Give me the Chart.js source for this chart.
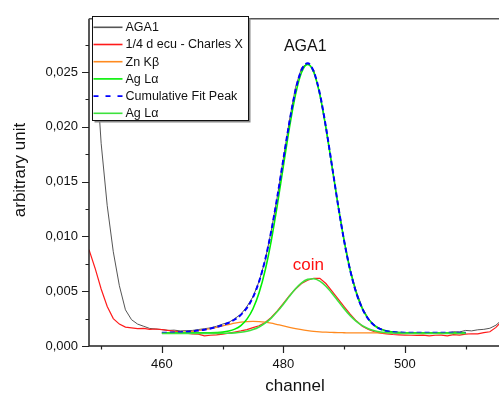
<!DOCTYPE html>
<html>
<head>
<meta charset="utf-8">
<script src="https://cdn.jsdelivr.net/npm/chart.js@4.4.1/dist/chart.umd.min.js"></script>
<style>
html, body { margin: 0; padding: 0; background: #fff; overflow: hidden; }
</style>
</head>
<body>
<canvas id="spectrum" width="499" height="394"></canvas>
<script>
"use strict";

// Channels of the measured spectra and of the fitted curves
const dataChannels = [
    448, 449, 450, 451, 452, 453, 454, 455, 456, 457,
    458, 459, 460, 461, 462, 463, 464, 465, 466, 467,
    468, 469, 470, 471, 472, 473, 474, 475, 476, 477,
    478, 479, 480, 481, 482, 483, 484, 485, 486, 487,
    488, 489, 490, 491, 492, 493, 494, 495, 496, 497,
    498, 499, 500, 501, 502, 503, 504, 505, 506, 507,
    508, 509, 510, 511, 512, 513, 514, 515, 516
];
const fitChannels = [
    460, 461, 462, 463, 464, 465, 466, 467, 468, 469,
    470, 471, 472, 473, 474, 475, 476, 477, 478, 479,
    480, 481, 482, 483, 484, 485, 486, 487, 488, 489,
    490, 491, 492, 493, 494, 495, 496, 497, 498, 499,
    500, 501, 502, 503, 504, 505, 506, 507, 508, 509, 510
];

// Measured spectra
const aga1 = [
    0.08, 0.027, 0.0185, 0.0128, 0.0086, 0.0055, 0.0033, 0.0024, 0.0020, 0.0018,
    0.0016, 0.00155, 0.0015, 0.00142, 0.00145, 0.00138, 0.0014, 0.00142, 0.0015, 0.00158,
    0.00165, 0.0018, 0.002, 0.00215, 0.0025, 0.0029, 0.0036, 0.0045, 0.0059, 0.0078,
    0.0105, 0.0136, 0.0171, 0.0206, 0.0236, 0.0254, 0.0258, 0.0252, 0.0230, 0.0199,
    0.0164, 0.0129, 0.0097, 0.0070, 0.0050, 0.0035, 0.0025, 0.0019, 0.00158, 0.00138,
    0.0013, 0.00125, 0.00122, 0.0012, 0.00121, 0.00118, 0.0012, 0.00122, 0.00119, 0.00121,
    0.0013, 0.00128, 0.00142, 0.00138, 0.00148, 0.00152, 0.00162, 0.0019, 0.0024
];
const coin = [
    0.0088, 0.0071, 0.0052, 0.0036, 0.0025, 0.0020, 0.00172, 0.00165, 0.00158, 0.0016,
    0.00152, 0.00155, 0.0015, 0.00142, 0.00135, 0.0013, 0.00118, 0.0011, 0.00108, 0.00092,
    0.00098, 0.00102, 0.00108, 0.00118, 0.00128, 0.00138, 0.0015, 0.00168, 0.00185, 0.00215,
    0.0026, 0.0032, 0.0039, 0.0046, 0.0052, 0.0057, 0.0060, 0.00618, 0.00618, 0.0057,
    0.0050, 0.0043, 0.0036, 0.0029, 0.0023, 0.0018, 0.0015, 0.0013, 0.00118, 0.0011,
    0.00105, 0.00102, 0.001, 0.00098, 0.00097, 0.001, 0.00093, 0.00098, 0.001, 0.00092,
    0.00104, 0.001, 0.00108, 0.00112, 0.0011, 0.00122, 0.0013, 0.0017, 0.0023
];

// Fitted peaks
const znKb = [
    0.00121, 0.00122, 0.00124, 0.00126, 0.00129, 0.00134, 0.00141, 0.00149, 0.00159, 0.00171,
    0.00184, 0.00196, 0.00208, 0.00217, 0.00223, 0.00225, 0.00223, 0.00217, 0.00208, 0.00196,
    0.00184, 0.00171, 0.00159, 0.00149, 0.00141, 0.00134, 0.00129, 0.00126, 0.00124, 0.00122,
    0.00121, 0.0012, 0.0012, 0.0012, 0.0012, 0.0012, 0.0012, 0.0012, 0.0012, 0.0012,
    0.0012, 0.0012, 0.0012, 0.0012, 0.0012, 0.0012, 0.0012, 0.0012, 0.0012, 0.0012, 0.0012
];
const agLaAga = [
    0.0012, 0.0012, 0.0012, 0.0012, 0.0012, 0.0012, 0.0012, 0.0012, 0.00121, 0.00123,
    0.00127, 0.00136, 0.00154, 0.00187, 0.00245, 0.00340, 0.00485, 0.00690, 0.00960, 0.01285,
    0.01642, 0.01994, 0.02295, 0.02498, 0.02570, 0.02498, 0.02295, 0.01994, 0.01642, 0.01285,
    0.00960, 0.00690, 0.00485, 0.00340, 0.00245, 0.00187, 0.00154, 0.00136, 0.00127, 0.00123,
    0.00121, 0.0012, 0.0012, 0.0012, 0.0012, 0.0012, 0.0012, 0.0012, 0.0012, 0.0012, 0.0012
];
const cumulativeFit = [
    0.00121, 0.00122, 0.00124, 0.00126, 0.00129, 0.00134, 0.00141, 0.00149, 0.00160, 0.00174,
    0.00191, 0.00212, 0.00242, 0.00284, 0.00348, 0.00445, 0.00588, 0.00787, 0.01048, 0.01361,
    0.01706, 0.02045, 0.02334, 0.02520, 0.02580, 0.02505, 0.02304, 0.02000, 0.01646, 0.01287,
    0.00961, 0.00690, 0.00485, 0.00340, 0.00245, 0.00187, 0.00154, 0.00136, 0.00127, 0.00123,
    0.00121, 0.0012, 0.0012, 0.0012, 0.0012, 0.0012, 0.0012, 0.0012, 0.0012, 0.0012, 0.0012
];
const agLaCoin = [
    0.00115, 0.00115, 0.00115, 0.00115, 0.00115, 0.00115, 0.00115, 0.00115, 0.00115, 0.00115,
    0.00116, 0.00117, 0.00120, 0.00125, 0.00134, 0.00150, 0.00174, 0.00208, 0.00255, 0.00314,
    0.00382, 0.00454, 0.00522, 0.00576, 0.00608, 0.00614, 0.00592, 0.00545, 0.00482, 0.00411,
    0.00341, 0.00277, 0.00225, 0.00186, 0.00158, 0.00140, 0.00128, 0.00122, 0.00118, 0.00116,
    0.00115, 0.00115, 0.00115, 0.00115, 0.00115, 0.00115, 0.00115, 0.00115, 0.00115, 0.00115, 0.00115
];

// Ticks
const yTicks = [0, 0.005, 0.010, 0.015, 0.020, 0.025];
const yMinorTicks = [0.0025, 0.0075, 0.0125, 0.0175, 0.0225, 0.0275];
const xTicks = [460, 480, 500];
const xMinorTicks = [450, 470, 490, 510];

const seriesLabels = ['AGA1', '1/4 d ecu - Charles X', 'Zn K\u03b2', 'Ag L\u03b1', 'Cumulative Fit Peak', 'Ag L\u03b1'];

const FONT = '"Liberation Sans", Arial, sans-serif';

const toPoints = (xs, ys) => xs.map((x, i) => ({ x: x, y: ys[i] }));

// Axis lines, minor ticks, titles, legend and the two notes
const framePlugin = {
    id: 'frame',
    afterDraw(chart) {
        const ctx = chart.ctx;
        const area = chart.chartArea;
        const xs = chart.scales.x;
        const ys = chart.scales.y;
        ctx.save();

        // axis lines
        ctx.strokeStyle = '#222';
        ctx.lineWidth = 1.5;
        ctx.beginPath();
        ctx.moveTo(area.left, area.top);
        ctx.lineTo(area.left, area.bottom);
        ctx.lineTo(area.right, area.bottom);
        ctx.stroke();
        ctx.strokeStyle = '#555';
        ctx.beginPath();
        ctx.moveTo(area.left, area.top);
        ctx.lineTo(area.right, area.top);
        ctx.stroke();

        // ticks
        ctx.strokeStyle = '#222';
        ctx.lineWidth = 1.2;
        ctx.beginPath();
        yTicks.forEach(v => { const p = Math.round(ys.getPixelForValue(v)) + 0.5; ctx.moveTo(area.left - 7, p); ctx.lineTo(area.left, p); });
        yMinorTicks.forEach(v => { const p = Math.round(ys.getPixelForValue(v)) + 0.5; ctx.moveTo(area.left - 3.5, p); ctx.lineTo(area.left, p); });
        xTicks.forEach(v => { const p = Math.round(xs.getPixelForValue(v)) + 0.5; ctx.moveTo(p, area.bottom); ctx.lineTo(p, area.bottom + 7); });
        xMinorTicks.forEach(v => { const p = Math.round(xs.getPixelForValue(v)) + 0.5; ctx.moveTo(p, area.bottom); ctx.lineTo(p, area.bottom + 3.5); });
        ctx.stroke();

        // axis titles
        ctx.fillStyle = '#111';
        ctx.font = '17px ' + FONT;
        ctx.textAlign = 'center';
        ctx.textBaseline = 'middle';
        ctx.fillText('channel', 295, 386);
        ctx.save();
        ctx.translate(20, 170);
        ctx.rotate(-Math.PI / 2);
        ctx.fillText('arbitrary unit', 0, 0);
        ctx.restore();

        // notes on the peaks
        ctx.font = '16px ' + FONT;
        ctx.fillStyle = '#111';
        ctx.fillText('AGA1', xs.getPixelForValue(483.6), ys.getPixelForValue(0.02735));
        ctx.fillStyle = '#ff1010';
        ctx.font = '17px ' + FONT;
        ctx.fillText('coin', xs.getPixelForValue(484.1), ys.getPixelForValue(0.00735));

        // legend box
        const box = { left: 92.5, top: 16.5, right: 248.5, bottom: 120.5 };
        ctx.fillStyle = '#888';
        ctx.fillRect(box.left + 2, box.top + 2, box.right - box.left, box.bottom - box.top);
        ctx.fillStyle = '#fff';
        ctx.fillRect(box.left, box.top, box.right - box.left, box.bottom - box.top);
        ctx.strokeStyle = '#111';
        ctx.lineWidth = 1;
        ctx.strokeRect(box.left, box.top, box.right - box.left, box.bottom - box.top);

        ctx.font = '12.5px ' + FONT;
        ctx.textAlign = 'left';
        chart.data.datasets.forEach((ds, i) => {
            const y = box.top + 10.8 + i * 17.2;
            ctx.strokeStyle = ds.borderColor;
            ctx.lineWidth = 1.6;
            ctx.setLineDash(ds.borderDash && ds.borderDash.length ? [5, 7] : []);
            ctx.beginPath();
            ctx.moveTo(box.left + 1, y);
            ctx.lineTo(box.left + 30, y);
            ctx.stroke();
            ctx.setLineDash([]);
            ctx.fillStyle = '#111';
            ctx.fillText(ds.label, box.left + 33, y + 0.5);
        });
        ctx.restore();
    }
};

const chart = new Chart(document.getElementById('spectrum').getContext('2d'), {
    type: 'line',
    data: {
        datasets: [
            { label: seriesLabels[0], data: toPoints(dataChannels, aga1), borderColor: '#555555', borderWidth: 1, order: 6 },
            { label: seriesLabels[1], data: toPoints(dataChannels, coin), borderColor: '#ff1a1a', borderWidth: 1.2, order: 5 },
            { label: seriesLabels[2], data: toPoints(fitChannels, znKb), borderColor: '#ff8a1f', borderWidth: 1.3, cubicInterpolationMode: 'monotone', order: 4 },
            { label: seriesLabels[3], data: toPoints(fitChannels, agLaAga), borderColor: '#00f000', borderWidth: 1.6, cubicInterpolationMode: 'monotone', order: 3 },
            { label: seriesLabels[4], data: toPoints(fitChannels, cumulativeFit), borderColor: '#0000ff', borderWidth: 2, borderDash: [5, 3], cubicInterpolationMode: 'monotone', order: 2 },
            { label: seriesLabels[5], data: toPoints(fitChannels, agLaCoin), borderColor: '#3de23d', borderWidth: 1.6, cubicInterpolationMode: 'monotone', order: 1 }
        ]
    },
    options: {
        responsive: false,
        devicePixelRatio: 1,
        animation: false,
        layout: { padding: { top: 14, right: 0, left: 0, bottom: 0 } },
        elements: { point: { radius: 0 }, line: { tension: 0, fill: false } },
        plugins: { legend: { display: false }, tooltip: { enabled: false } },
        scales: {
            x: {
                type: 'linear',
                min: 448,
                max: 515.5,
                grid: { display: false, drawTicks: false },
                border: { display: false },
                afterBuildTicks: scale => { scale.ticks = xTicks.map(v => ({ value: v })); },
                afterFit: scale => { scale.height = 48; },
                ticks: { color: '#111', font: { family: FONT, size: 13 }, padding: 11, maxRotation: 0 }
            },
            y: {
                type: 'linear',
                min: 0,
                max: 0.02986,
                grid: { display: false, drawTicks: false },
                border: { display: false },
                afterBuildTicks: scale => { scale.ticks = yTicks.map(v => ({ value: v })); },
                afterFit: scale => { scale.width = 89; },
                ticks: {
                    color: '#111',
                    font: { family: FONT, size: 13 },
                    padding: 11,
                    callback: v => v.toFixed(3).replace('.', ',')
                }
            }
        }
    },
    plugins: [framePlugin]
});
</script>
</body>
</html>
